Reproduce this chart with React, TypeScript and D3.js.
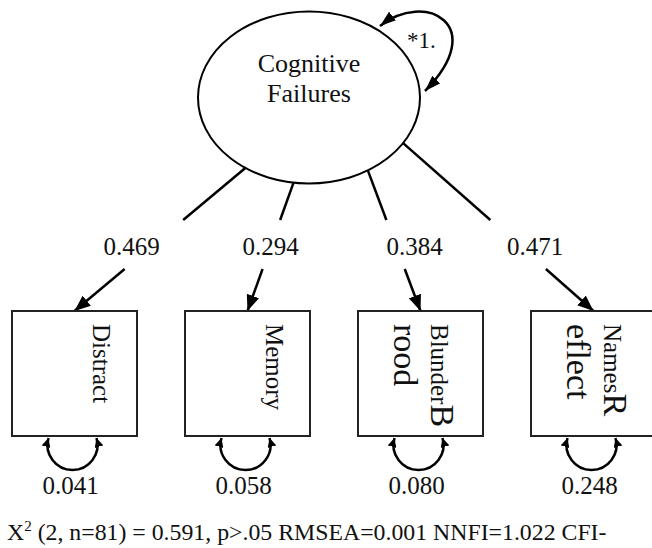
import React from "react";
import * as d3 from "d3";

// Measurement model: one latent factor, four indicators
const latentLines = ["Cognitive", "Failures"];
const latentVarianceLabel = "*1.";
const indicatorNames = ["Distract", "Memory", "Blunder", "Names"];
const indicatorWrapped = ["", "", "Brood", "Reflect"];
const loadings = [0.469, 0.294, 0.384, 0.471];
const errorVariances = [0.041, 0.058, 0.08, 0.248];

// Fit statistics
const chiDf = 2;
const sampleN = 81;
const chiSquare = 0.591;
const pNote = "p>.05";
const rmsea = 0.001;
const nnfi = 1.022;

const W = 652;
const H = 548;
const FONT = "'Liberation Serif', 'DejaVu Serif', serif";

// Layout
const ell = { cx: 309, cy: 97.5, rx: 111, ry: 86 };
const sourceAngles = [125, 98, 58, 32]; // degrees on the latent ellipse
const boxSize = 125;
const boxTop = 311;
const gapTop = 220;
const gapBottom = 269;

export default function App() {
  const x = d3
    .scalePoint<string>()
    .domain(indicatorNames)
    .range([74.5, 593.5]);

  const fmt3 = d3.format(".3f");
  const line = d3.line();

  const pathAtY = (p0: [number, number], p1: [number, number], y: number): [number, number] => {
    const t = (y - p0[1]) / (p1[1] - p0[1]);
    return [p0[0] + (p1[0] - p0[0]) * t, y];
  };

  // latent self-loop
  const selfLoop = d3.path();
  selfLoop.moveTo(380, 26);
  selfLoop.bezierCurveTo(425, -10, 490, 25, 425, 91);

  return (
    <svg
      width={W}
      height={H}
      viewBox={`0 0 ${W} ${H}`}
      style={{ position: "absolute", left: 0, top: 0, background: "#fff" }}
    >
      <defs>
        <marker
          id="head"
          viewBox="0 0 10 10"
          refX={10}
          refY={5}
          markerWidth={16}
          markerHeight={13}
          markerUnits="userSpaceOnUse"
          preserveAspectRatio="none"
          orient="auto-start-reverse"
        >
          <path d="M0,0 L10,5 L0,10 z" fill="#000" />
        </marker>
        <marker
          id="headLoop"
          viewBox="0 0 10 10"
          refX={10}
          refY={5}
          markerWidth={16}
          markerHeight={11}
          markerUnits="userSpaceOnUse"
          preserveAspectRatio="none"
          orient="auto-start-reverse"
        >
          <path d="M0,0 L10,5 L0,10 z" fill="#000" />
        </marker>
        <marker
          id="headSmall"
          viewBox="0 0 10 10"
          refX={10}
          refY={5}
          markerWidth={9}
          markerHeight={9}
          markerUnits="userSpaceOnUse"
          preserveAspectRatio="none"
          orient="auto-start-reverse"
        >
          <path d="M0,0 L10,5 L0,10 z" fill="#000" />
        </marker>
      </defs>

      {/* latent factor */}
      <ellipse
        cx={ell.cx}
        cy={ell.cy}
        rx={ell.rx}
        ry={ell.ry}
        fill="none"
        stroke="#000"
        strokeWidth={2}
      />
      {latentLines.map((t, i) => (
        <text
          key={t}
          x={ell.cx}
          y={72 + i * 30}
          textAnchor="middle"
          fontFamily={FONT}
          fontSize={26}
          fill="#111"
        >
          {t}
        </text>
      ))}
      <path
        d={selfLoop.toString()}
        fill="none"
        stroke="#000"
        strokeWidth={2.5}
        markerStart="url(#headLoop)"
        markerEnd="url(#headLoop)"
      />
      <text x={407} y={48} fontFamily={FONT} fontSize={23} fill="#111">
        {latentVarianceLabel}
      </text>

      {/* loadings */}
      {indicatorNames.map((name, i) => {
        const a = (sourceAngles[i] * Math.PI) / 180;
        const p0: [number, number] = [
          ell.cx + ell.rx * Math.cos(a),
          ell.cy + ell.ry * Math.sin(a),
        ];
        const p1: [number, number] = [x(name)!, boxTop];
        const g0 = pathAtY(p0, p1, gapTop);
        const g1 = pathAtY(p0, p1, gapBottom);
        const labelX = [131.5, 270.5, 414.5, 535][i];
        return (
          <g key={name}>
            <path d={line([p0, g0])!} stroke="#000" strokeWidth={2.5} fill="none" />
            <path
              d={line([g1, p1])!}
              stroke="#000"
              strokeWidth={2.5}
              fill="none"
              markerEnd="url(#head)"
            />
            <text
              x={labelX}
              y={255}
              textAnchor="middle"
              fontFamily={FONT}
              fontSize={25}
              fill="#111"
            >
              {fmt3(loadings[i])}
            </text>
          </g>
        );
      })}

      {/* indicators */}
      {indicatorNames.map((name, i) => {
        const cx = x(name)!;
        const left = cx - boxSize / 2;
        const right = cx + boxSize / 2;
        const bottom = boxTop + boxSize;
        const wrapped = indicatorWrapped[i];
        const baseX = wrapped ? right - 52 : right - 44;
        const loopCx = cx - 2;
        const loopCy = bottom + 9;
        const r = 25;
        const a0 = Math.atan2(-7, -24);
        const a1 = Math.atan2(-7, 24);
        const loop = d3.path();
        loop.moveTo(loopCx + r * Math.cos(a0), loopCy + r * Math.sin(a0));
        loop.arc(loopCx, loopCy, r, a0, a1, true);
        return (
          <g key={name}>
            <rect
              x={left}
              y={boxTop}
              width={boxSize}
              height={boxSize}
              fill="none"
              stroke="#222"
              strokeWidth={2}
            />
            <text
              transform={`translate(${baseX},${boxTop + 13}) rotate(90)`}
              fontFamily={FONT}
              fill="#111"
            >
              <tspan x={0} y={0} fontSize={25}>
                {name}
              </tspan>
              {wrapped && <tspan fontSize={34}>{wrapped[0]}</tspan>}
              {wrapped && (
                <tspan x={0} y={37} fontSize={34}>
                  {wrapped.slice(1)}
                </tspan>
              )}
            </text>
            <path
              d={loop.toString()}
              fill="none"
              stroke="#000"
              strokeWidth={2.5}
              markerStart="url(#headSmall)"
              markerEnd="url(#headSmall)"
            />
            <text
              x={loopCx - 2}
              y={494}
              textAnchor="middle"
              fontFamily={FONT}
              fontSize={25}
              fill="#111"
            >
              {fmt3(errorVariances[i])}
            </text>
          </g>
        );
      })}

      {/* fit statistics */}
      <text x={7} y={540} fontFamily={FONT} fontSize={23.8} fill="#111">
        X
        <tspan fontSize={15} dy={-9}>
          2
        </tspan>
        <tspan dy={9}>
          {` (${chiDf}, n=${sampleN}) = ${fmt3(chiSquare)}, ${pNote} RMSEA=${fmt3(
            rmsea
          )} NNFI=${fmt3(nnfi)} CFI-`}
        </tspan>
      </text>
    </svg>
  );
}
